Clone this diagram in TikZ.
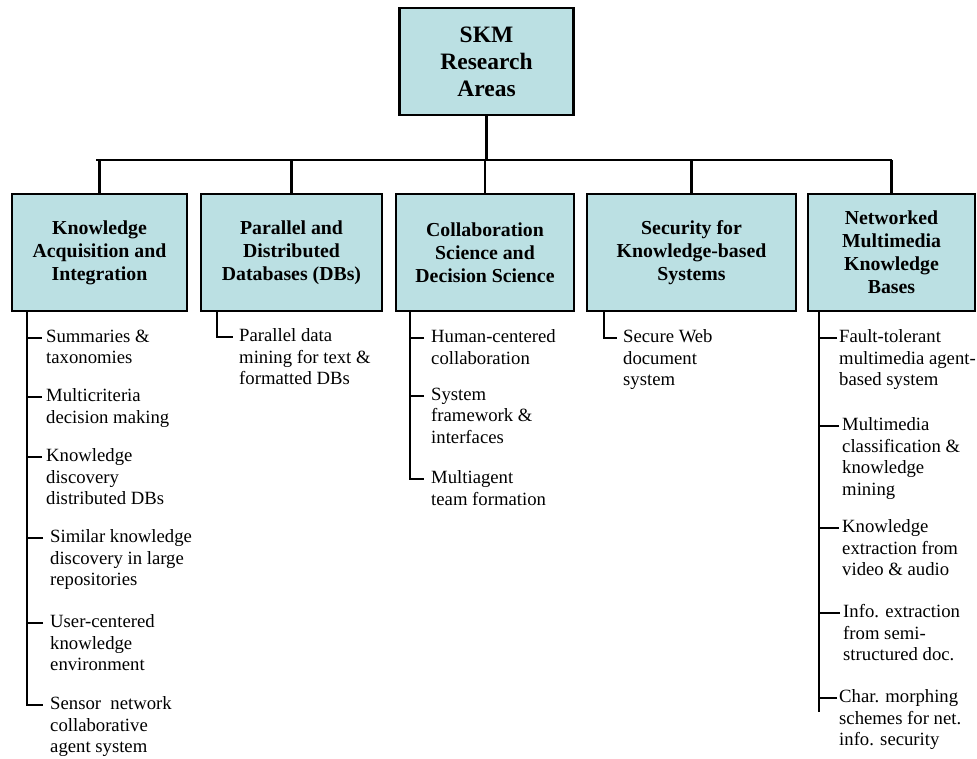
\documentclass[tikz,border=0pt]{standalone}
\usepackage{fontspec}
\setmainfont{Liberation Serif}
\definecolor{boxfill}{RGB}{187,224,227}
\begin{document}
\begin{tikzpicture}[x=1pt,y=-1pt,
  area/.style={draw=black, line width=2.6pt, fill=boxfill, align=center, inner sep=0pt,
    minimum height=117pt, font=\fontsize{19.8}{23}\selectfont\bfseries},
  root/.style={area, minimum height=107pt, font=\fontsize{23.5}{27}\selectfont\bfseries},
  item/.style={anchor=north west, align=left, inner ysep=0pt, inner xsep=4pt,
    font=\fontsize{18.7}{21.5}\selectfont, execute at begin node=\strut},
  link/.style={line width=2.2pt}]
\useasboundingbox (0,0) rectangle (977,759);

% boxes
\node[root, minimum width=174pt] (top) at (486.5,61.5) {SKM\\Research\\Areas};
\node[area, minimum width=175pt] (b1) at (99.5,252.5) {Knowledge\\Acquisition and\\Integration};
\node[area, minimum width=181pt] (b2) at (291.5,252.5) {Parallel and\\Distributed\\Databases (DBs)};
\node[area, minimum width=178pt] (b3) at (485,252.5) {Collaboration\\Science and\\Decision Science};
\node[area, minimum width=209pt] (b4) at (691.5,252.5) {Security for\\Knowledge-based\\Systems};
\node[area, minimum width=167pt] (b5) at (891.5,252.5) {Networked\\Multimedia\\Knowledge\\Bases};

% tree connectors
\coordinate (bus) at (0,160);
\coordinate (busL) at (96,160);
\draw[link] (top.south) -- (top.south |- bus);
\draw[link] (busL) -- (b5.north |- bus);
\foreach \b in {b1,b2,b3,b4,b5} \draw[link] (\b.north) -- (\b.north |- bus);

% column 1
\node[item] (i11) at (42,329.5) {Summaries \&\\taxonomies};
\node[item] (i12) at (42,388.5) {Multicriteria\\decision making};
\node[item] (i13) at (42,448.5) {Knowledge\\discovery\\distributed DBs};
\node[item, inner xsep=7pt] (i14) at (43,529.5) {Similar knowledge\\discovery in large\\repositories};
\node[item, inner xsep=7pt] (i15) at (43,614.5) {User-centered\\knowledge\\environment};
\node[item, inner xsep=7pt] (i16) at (43,696.5) {Sensor\ \ network\\collaborative\\agent system};
\coordinate (v1) at (27,311);
\foreach \i in {i11,i12,i13,i14,i15,i16} \coordinate (t\i) at ([yshift=-8.5pt]\i.north west);
\draw[link] (v1) |- (ti16);
\foreach \i in {i11,i12,i13,i14,i15} \draw[link] (t\i) -- (t\i -| v1);

% column 2
\node[item, inner xsep=6pt] (i21) at (233,328.5) {Parallel data\\mining for text \&\\formatted DBs};
\coordinate (v2) at (217,311);
\coordinate (ti21) at ([yshift=-8.5pt]i21.north west);
\draw[link] (v2) |- (ti21);

% column 3
\node[item, inner xsep=7pt] (i31) at (424,329.5) {Human-centered\\collaboration};
\node[item, inner xsep=7pt] (i32) at (424,387.5) {System\\framework \&\\interfaces};
\node[item, inner xsep=7pt] (i33) at (424,470.5) {Multiagent\\team formation};
\coordinate (v3) at (410,311);
\foreach \i in {i31,i32,i33} \coordinate (t\i) at ([yshift=-8.5pt]\i.north west);
\draw[link] (v3) |- (ti33);
\foreach \i in {i31,i32} \draw[link] (t\i) -- (t\i -| v3);

% column 4
\node[item, inner xsep=6pt] (i41) at (617,329.5) {Secure Web\\document\\system};
\coordinate (v4) at (604,311);
\coordinate (ti41) at ([yshift=-8.5pt]i41.north west);
\draw[link] (v4) |- (ti41);

% column 5
\node[item, inner xsep=2pt] (i51) at (837,329.5) {Fault-tolerant\\multimedia agent-\\based system};
\node[item, inner xsep=3pt] (i52) at (839,417.5) {Multimedia\\classification \&\\knowledge\\mining};
\node[item, inner xsep=3pt] (i53) at (839,519.5) {Knowledge\\extraction from\\video \& audio};
\node[item, inner xsep=3pt] (i54) at (840,604.5) {Info. extraction\\from semi-\\structured doc.};
\node[item, inner xsep=2pt] (i55) at (837,689.5) {Char. morphing\\schemes for net.\\info. security};
\coordinate (v5) at (819,311);
\coordinate (v5end) at (819,712);
\draw[link] (v5) -- (v5end);
\foreach \i in {i51,i52,i53,i54,i55} {
  \coordinate (t\i) at ([yshift=-8.5pt]\i.north west);
  \draw[link] (t\i) -- (t\i -| v5);
}
\end{tikzpicture}
\end{document}
